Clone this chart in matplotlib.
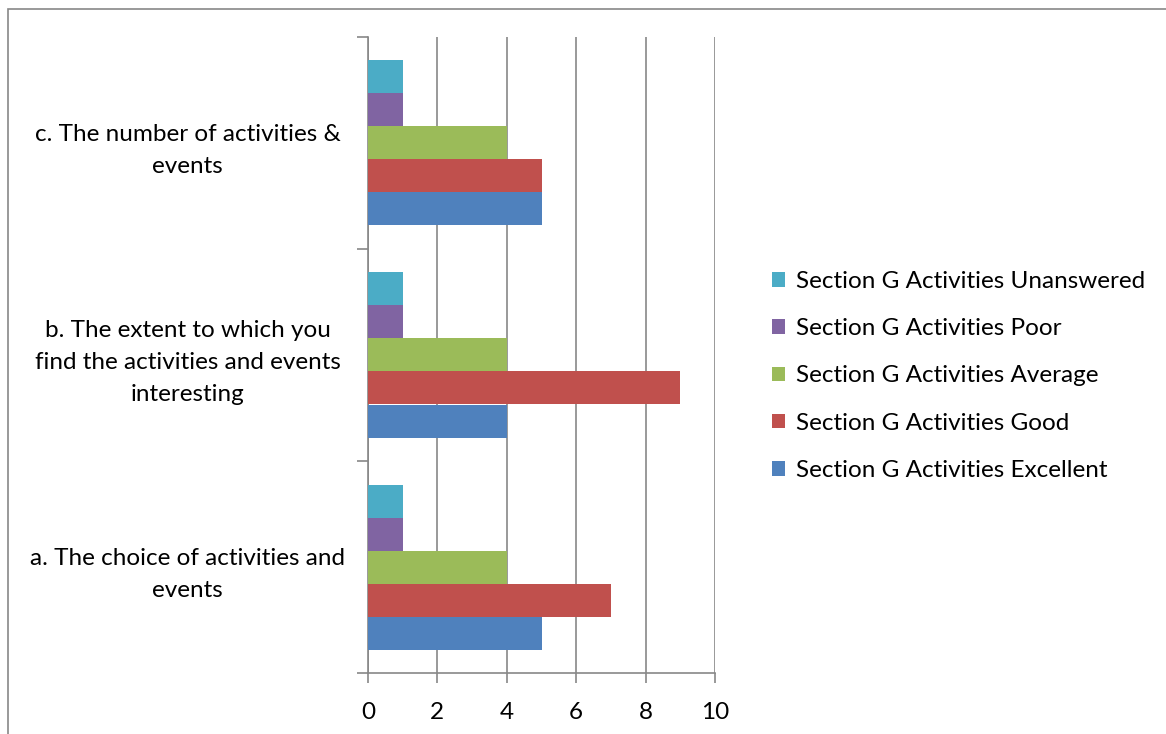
import matplotlib.pyplot as plt
from matplotlib.patches import Rectangle
import numpy


#####################################################################
# Data
categories = ["a. The choice of activities and\nevents",
              "b. The extent to which you\nfind the activities and events\ninteresting",
              "c. The number of activities &\nevents"]
series_names = ["Section G Activities Excellent",
                "Section G Activities Good",
                "Section G Activities Average",
                "Section G Activities Poor",
                "Section G Activities Unanswered"]
excellent = [5, 4, 5]
good = [7, 9, 5]
average = [4, 4, 4]
poor = [1, 1, 1]
unanswered = [1, 1, 1]
x_ticks = [0, 2, 4, 6, 8, 10]

colors = ["#4F81BD", "#C0504D", "#9BBB59", "#8064A2", "#4BACC6"]
grey = "#878787"
fs = 17.5

#####################################################################
plt.rcParams['font.family'] = ['Lato', 'DejaVu Sans']

fig = plt.figure(figsize=(11.66, 7.34), dpi=100)
ax = fig.add_axes([368/1166, 61/734, 347/1166, 636/734])

# outer chart border (runs off the right and bottom of the image)
fig.patches.append(Rectangle((8/1166, -0.05), 1.1, 0.05 + (734-9)/734,
                             transform=fig.transFigure, fill=False,
                             edgecolor=grey, linewidth=1.2, clip_on=False))

y = numpy.arange(len(categories))
h = 33/212.
all_series = [excellent, good, average, poor, unanswered]
for k, vals in enumerate(all_series):
    ax.barh(y + (k - 2)*h, vals, height=h, color=colors[k],
            label=series_names[k], zorder=3)

ax.set_xlim(0, 10)
ax.set_ylim(-0.5, 2.5)
ax.set_xticks(x_ticks)
ax.set_xticklabels([str(t) for t in x_ticks], fontsize=fs)
ax.set_yticks(y)
ax.set_yticklabels(categories, fontsize=fs, ha='center', linespacing=1.65)
ax.set_yticks([-0.5, 0.5, 1.5, 2.5], minor=True)
ax.tick_params(axis='y', which='major', length=0, pad=130)
ax.tick_params(axis='y', which='minor', length=8, color=grey, width=1.2)
ax.tick_params(axis='x', length=7, color=grey, width=1.2, pad=14)

ax.grid(axis='x', color=grey, linewidth=1.2, zorder=0)
for s in ["top", "right"]:
    ax.spines[s].set_visible(False)
for s in ["left", "bottom"]:
    ax.spines[s].set_color(grey)
    ax.spines[s].set_linewidth(1.2)

handles, labels = ax.get_legend_handles_labels()
ax.legend(handles[::-1], labels[::-1], loc='center left',
          bbox_to_anchor=(772/1166, 1 - 376/734), bbox_transform=fig.transFigure,
          frameon=False, fontsize=fs, handlelength=0.55, handleheight=0.55,
          handletextpad=0.45, labelspacing=1.08, borderaxespad=0, borderpad=0)

plt.savefig("out.png", dpi=100)
